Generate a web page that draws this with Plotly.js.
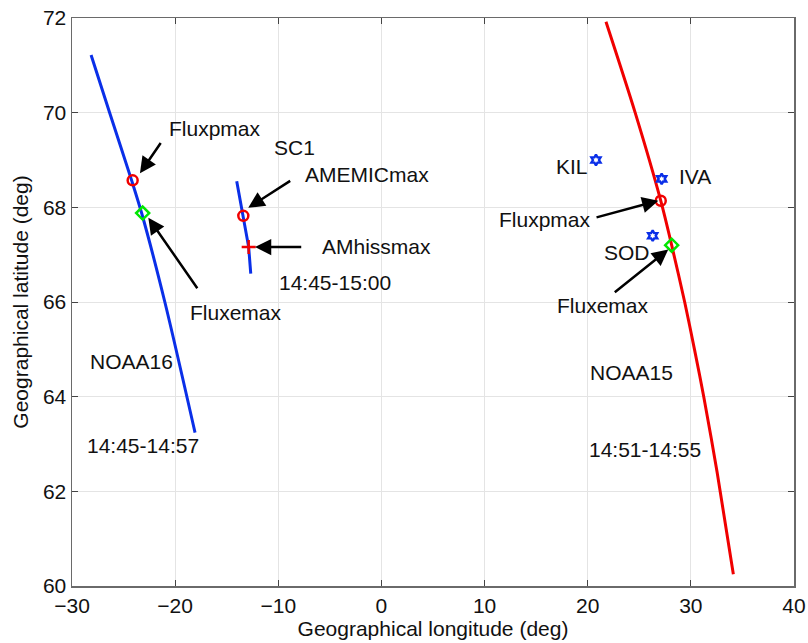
<!DOCTYPE html>
<html>
<head>
<meta charset="utf-8">
<script src="https://cdn.plot.ly/plotly-3.0.1.min.js"></script>
<style>html,body{margin:0;padding:0;background:#fff}#chart{width:808px;height:643px}</style>
</head>
<body>
<div id="chart"></div>
<script>
// NOAA16 track
var noaa16Lon = [-28.15, -26.35, -24.22, -23.25, -21.0, -18.07];
var noaa16Lat = [71.22, 70.0, 68.57, 67.88, 66.0, 63.24];
// SC1 track
var sc1Lon = [-14.03, -13.39, -12.87, -12.67];
var sc1Lat = [68.55, 67.82, 67.16, 66.6];
// NOAA15 track
var noaa15Lon = [21.77, 24.6, 27.08, 28.14, 29.4, 30.35, 31.25, 32.55, 34.12];
var noaa15Lat = [71.92, 70.0, 68.14, 67.2, 66.0, 65.0, 64.0, 62.4, 60.25];
// red circle markers (Fluxpmax / AMEMICmax)
var redCircLon = [-24.12, -13.39, 27.08];
var redCircLat = [68.57, 67.82, 68.14];
// green diamond markers (Fluxemax)
var greenLon = [-23.15, 28.14];
var greenLat = [67.88, 67.2];
// AMhissmax plus marker
var plusLon = [-12.87];
var plusLat = [67.16];
// stations
var stationNames = ["KIL", "IVA", "SOD"];
var stationLon = [20.8, 27.17, 26.3];
var stationLat = [69.0, 68.6, 67.4];

// text labels
var labelText = ["Fluxpmax", "Fluxemax", "SC1", "AMEMICmax", "AMhissmax", "14:45-15:00", "NOAA16", "14:45-14:57",
                 "KIL", "IVA", "Fluxpmax", "SOD", "Fluxemax", "NOAA15", "14:51-14:55"];
var labelLon = [-20.76, -18.72, -8.38, -7.60, -5.95, -10.09, -28.42, -28.74,
                20.22, 28.69, 11.18, 21.36, 16.83, 20.06, 19.96];
var labelLat = [69.67, 65.78, 69.26, 68.69, 67.18, 66.41, 64.75, 62.96,
                68.86, 68.65, 67.75, 67.04, 65.93, 64.51, 62.89];
var labelAnchor = ["left", "left", "center", "left", "left", "left", "left", "left",
                   "right", "left", "left", "left", "left", "left", "left"];

// arrows: tail -> head
var arrowTailLon = [-21.30, -17.75, -8.70, -7.63, 20.71, 22.48];
var arrowTailLat = [69.39, 66.26, 68.58, 67.16, 67.78, 66.18];
var arrowHeadLon = [-23.41, -22.60, -12.91, -12.26, 26.85, 27.81];
var arrowHeadLat = [68.72, 67.78, 67.99, 67.16, 68.14, 67.11];

var blue = "#0a2fe8", red = "#f00000", green = "#00e600";

var traces = [
  {x: noaa16Lon, y: noaa16Lat, mode: "lines", line: {color: blue, width: 3, shape: "spline", smoothing: 0.8}, hoverinfo: "skip"},
  {x: sc1Lon, y: sc1Lat, mode: "lines", line: {color: blue, width: 3}, hoverinfo: "skip"},
  {x: noaa15Lon, y: noaa15Lat, mode: "lines", line: {color: red, width: 3, shape: "spline", smoothing: 0.8}, hoverinfo: "skip"},
  {x: redCircLon, y: redCircLat, mode: "markers", marker: {symbol: "circle-open", size: 10, color: red, line: {width: 2.5, color: red}}},
  {x: greenLon, y: greenLat, mode: "markers", marker: {symbol: "diamond-open", size: 10, color: green, line: {width: 2.5, color: green}}},
  {x: plusLon, y: plusLat, mode: "markers", marker: {symbol: "cross-thin-open", size: 10, color: red, line: {width: 2.5, color: red}}},
  {x: stationLon, y: stationLat, mode: "markers", text: stationNames, marker: {symbol: "hexagram-open", size: 8, color: blue, line: {width: 2.4, color: blue}}}
];

var font = {family: "Liberation Sans, Arial, Helvetica, sans-serif", size: 21, color: "#111"};
var annotations = [];
for (var i = 0; i < labelText.length; i++) {
  annotations.push({x: labelLon[i], y: labelLat[i], xref: "x", yref: "y", text: labelText[i], showarrow: false,
    xanchor: labelAnchor[i], yanchor: "middle", font: font});
}
for (var j = 0; j < arrowTailLon.length; j++) {
  annotations.push({x: arrowHeadLon[j], y: arrowHeadLat[j], ax: arrowTailLon[j], ay: arrowTailLat[j],
    xref: "x", yref: "y", axref: "x", ayref: "y", text: "", showarrow: true,
    arrowhead: 2, arrowsize: 1.3, arrowwidth: 2.5, arrowcolor: "#000", standoff: 0, startstandoff: 0});
}

var axisCommon = {
  showgrid: true, gridcolor: "#e4e4e4", gridwidth: 1,
  showline: true, linecolor: "#6a6a6a", linewidth: 1.5, mirror: "allticks",
  ticks: "inside", ticklen: 6, tickcolor: "#444", tickwidth: 1,
  zeroline: false, tickfont: font
};

var layout = {
  width: 808, height: 643,
  margin: {l: 72, r: 14, t: 18, b: 57},
  paper_bgcolor: "#fff", plot_bgcolor: "#fff",
  showlegend: false,
  xaxis: Object.assign({}, axisCommon, {range: [-30, 40], dtick: 10, tick0: 0,
    title: {text: "Geographical longitude (deg)", font: font, standoff: 4}}),
  yaxis: Object.assign({}, axisCommon, {range: [60, 72], dtick: 2, tick0: 60,
    title: {text: "Geographical latitude (deg)", font: font, standoff: 8}}),
  annotations: annotations
};

Plotly.newPlot("chart", traces, layout, {staticPlot: true});
</script>
</body>
</html>
